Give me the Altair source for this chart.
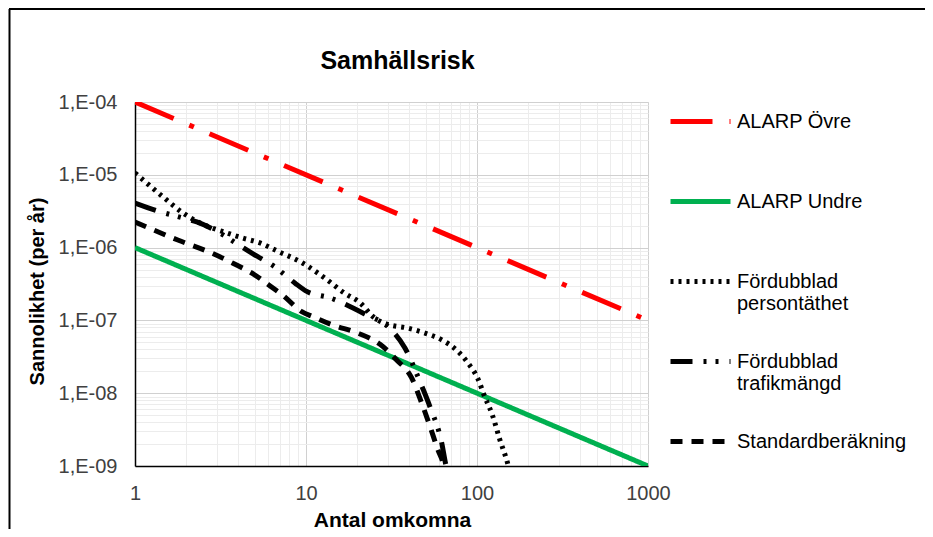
import altair as alt
import pandas as pd

# ---------------- data ----------------
series_names = [
    "ALARP Övre",
    "ALARP Undre",
    "Fördubblad persontäthet",
    "Fördubblad trafikmängd",
    "Standardberäkning",
]

ovre_x = [1, 1000]
ovre_y = [1e-4, 1e-7]

undre_x = [1, 1000]
undre_y = [1e-6, 1e-9]

pers_x = [1, 1.46, 1.91, 2.4, 3.45, 4.28, 5.38, 6.77, 9.5, 12.9, 16.9, 20.7,
          24.7, 28.2, 31, 38.8, 49.6, 62.2, 76, 88.5, 101, 111, 122, 136, 152, 156]
pers_y = [1.06e-5, 4.96e-6, 2.99e-6, 2.18e-6, 1.59e-6, 1.35e-6, 1.16e-6, 9.0e-7,
          6.2e-7, 3.8e-7, 2.35e-7, 1.75e-7, 1.12e-7, 9.3e-8, 8.65e-8, 7.9e-8,
          6.7e-8, 5.4e-8, 3.9e-8, 2.6e-8, 1.6e-8, 8.9e-9, 5.3e-9, 2.3e-9, 1.03e-9, 8e-10]

trafik_x = [1, 1.36, 1.91, 2.3, 3.06, 4.22, 4.9, 6.59, 8.6, 10.1, 13.8, 22.6,
            30.2, 37.9, 46.4, 53.1, 62.2, 66, 68]
trafik_y = [4.1e-6, 3.18e-6, 2.55e-6, 2.25e-6, 1.64e-6, 1.02e-6, 8.2e-7, 5.4e-7,
            3.27e-7, 2.5e-7, 2.04e-7, 1.19e-7, 8.2e-8, 4.18e-8, 1.44e-8, 6.5e-9,
            2.07e-9, 1.0e-9, 8e-10]

std_x = [1, 1.78, 2.81, 3.74, 5.03, 6.41, 7.3, 9.44, 11, 14.4, 20.1, 27.1, 33.9,
         41.5, 47.5, 53.1, 59.1, 63.2, 65]
std_y = [2.25e-6, 1.27e-6, 8.4e-7, 6.1e-7, 4.2e-7, 2.79e-7, 2.23e-7, 1.32e-7,
         1.12e-7, 8.6e-8, 6.7e-8, 4.7e-8, 2.86e-8, 1.62e-8, 7.3e-9, 3.5e-9,
         1.66e-9, 1.1e-9, 8e-10]

x_ticks = [k * 10 ** e for e in range(0, 3) for k in range(1, 10)] + [1000]
y_ticks = [k * 10.0 ** e for e in range(-9, -4) for k in range(1, 10)] + [1e-4]

# ---------------- styling ----------------
colors = ["#FF0000", "#00B050", "#000000", "#000000", "#000000"]
dashes = [[42, 17, 5, 17], [1, 0], [3, 5], [22, 11, 3, 9, 3, 11], [12, 9]]
widths = [5, 5, 3, 3, 3]

rows = []
for name, xs, ys in zip(series_names,
                        [ovre_x, undre_x, pers_x, trafik_x, std_x],
                        [ovre_y, undre_y, pers_y, trafik_y, std_y]):
    for xv, yv in zip(xs, ys):
        rows.append({"serie": name, "antal": xv, "p": yv})
df = pd.DataFrame(rows)

FONT = "Liberation Sans"
LBL = "#404040"
is_decade = "abs(log(datum.value)/LN10 - round(log(datum.value)/LN10)) < 1e-6"

legend = alt.Legend(
    title=None, orient="none", legendX=533, legendY=-13,
    symbolType="stroke", symbolSize=3600,
    labelFontSize=20, labelFont=FONT, labelColor="#000000",
    labelOffset=4, rowPadding=15, labelLimit=0, padding=0,
    labelExpr="indexof(datum.label, 'Fördubblad') == 0 ? split(datum.label, ' ') : [datum.label, '']",
)

x_axis = alt.Axis(
    values=x_ticks, ticks=False, grid=True,
    gridColor=alt.condition(is_decade, alt.value("#d0d0d0"), alt.value("#ececec")),
    labelExpr=is_decade + " ? format(datum.value, 'd') : ''",
    labelFlush=False, labelOverlap=False, labelPadding=17,
    labelFontSize=20, labelFont=FONT, labelColor=LBL,
    domainColor="#000000", domainWidth=1.5,
    title="Antal omkomna", titleFont=FONT, titleFontSize=21, titleFontWeight="bold",
    titleColor="#000000", titleX=257, titleY=60, titleBaseline="alphabetic", titleAlign="center",
)

y_axis = alt.Axis(
    values=y_ticks, ticks=False, grid=True,
    gridColor=alt.condition(is_decade, alt.value("#d0d0d0"), alt.value("#ececec")),
    labelExpr=is_decade + " ? '1,E-0' + (-round(log(datum.value)/LN10)) : ''",
    labelFlush=False, labelOverlap=False, labelPadding=18,
    labelFontSize=20, labelFont=FONT, labelColor=LBL,
    domainColor="#000000", domainWidth=1.5,
    title="Sannolikhet (per år)", titleFont=FONT, titleFontSize=20, titleFontWeight="bold",
    titleColor="#000000", titleX=-98, titleY=189, titleBaseline="middle", titleAlign="center",
    titleAngle=270,
)

lines = alt.Chart(df).mark_line(interpolate="monotone", clip=True).encode(
    x=alt.X("antal:Q", scale=alt.Scale(type="log", domain=[1, 1000], nice=False), axis=x_axis),
    y=alt.Y("p:Q", scale=alt.Scale(type="log", domain=[1e-9, 1e-4], nice=False), axis=y_axis),
    color=alt.Color("serie:N", scale=alt.Scale(domain=series_names, range=colors), legend=legend),
    strokeDash=alt.StrokeDash("serie:N", scale=alt.Scale(domain=series_names, range=dashes), legend=legend),
    strokeWidth=alt.StrokeWidth("serie:N", scale=alt.Scale(domain=series_names, range=widths), legend=legend),
)

# outer chart-area frame edges (decoration only): top and left borders
frame_top = alt.Chart(alt.Data(values=[{"f": 1}])).mark_rule(
    stroke="#000000", strokeWidth=2
).encode(x=alt.value(-126), x2=alt.value(790), y=alt.value(-93))

frame_left = alt.Chart(alt.Data(values=[{"f": 1}])).mark_rule(
    stroke="#000000", strokeWidth=2
).encode(x=alt.value(-125.5), y=alt.value(-93), y2=alt.value(427))

chart = alt.layer(frame_top, frame_left, lines).properties(
    width=513, height=364,
    title=alt.TitleParams("Samhällsrisk", font=FONT, fontSize=25, fontWeight="bold",
                          color="#000000", anchor="middle", dx=6, offset=-66),
    autosize=alt.AutoSizeParams(type="none"),
    padding={"left": 127, "top": 94, "right": 277, "bottom": 63},
).configure_view(stroke="#000000", strokeWidth=1.5).configure(background="white")

chart.save("out.html", embed_options={"renderer": "svg", "actions": False})
